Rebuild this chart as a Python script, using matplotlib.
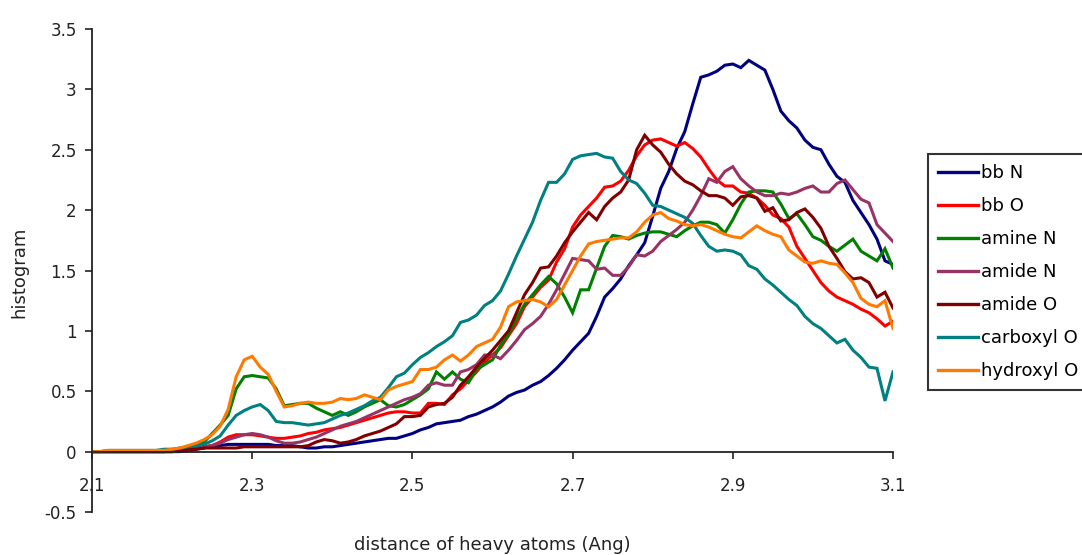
import numpy as np
import matplotlib
matplotlib.use("Agg")
import matplotlib.pyplot as plt
from matplotlib.ticker import FormatStrFormatter, FuncFormatter

# distance grid (Angstrom), 0.01 step
distance = np.round(np.arange(2.10, 3.1001, 0.01), 2)

bb_N = [0,0,0,0,0,0,0,0,0,0,
        0,0,0.01,0.02,0.03,0.05,0.05,0.06,0.06,0.06,
        0.06,0.06,0.06,0.05,0.05,0.05,0.04,0.03,0.03,0.04,
        0.04,0.05,0.06,0.07,0.08,0.09,0.10,0.11,0.11,0.13,
        0.15,0.18,0.20,0.23,0.24,0.25,0.26,0.29,0.31,0.34,
        0.37,0.41,0.46,0.49,0.51,0.55,0.58,0.63,0.69,0.76,
        0.84,0.91,0.98,1.12,1.28,1.35,1.43,1.54,1.63,1.73,
        1.95,2.18,2.32,2.51,2.65,2.88,3.10,3.12,3.15,3.20,
        3.21,3.18,3.24,3.20,3.16,3.00,2.82,2.74,2.68,2.58,
        2.52,2.50,2.38,2.28,2.23,2.08,1.98,1.88,1.76,1.58,
        1.55]

bb_O = [0,0,0,0,0,0,0,0,0,0,
        0.01,0.01,0.02,0.03,0.04,0.05,0.08,0.12,0.14,0.14,
        0.14,0.13,0.12,0.11,0.11,0.12,0.13,0.15,0.16,0.18,
        0.19,0.20,0.22,0.24,0.26,0.28,0.30,0.32,0.33,0.33,
        0.32,0.32,0.40,0.40,0.39,0.47,0.52,0.59,0.66,0.74,
        0.80,0.86,0.96,1.06,1.20,1.28,1.36,1.42,1.57,1.68,
        1.86,1.96,2.03,2.10,2.19,2.20,2.24,2.33,2.45,2.54,
        2.58,2.59,2.56,2.53,2.56,2.51,2.44,2.34,2.25,2.20,
        2.20,2.15,2.14,2.10,2.04,1.96,1.93,1.86,1.70,1.60,
        1.50,1.40,1.33,1.28,1.25,1.22,1.18,1.15,1.10,1.04,
        1.08]

amine_N = [0,0,0,0,0,0,0,0,0,0,
           0.01,0.02,0.04,0.06,0.08,0.15,0.22,0.30,0.52,0.62,
           0.63,0.62,0.61,0.52,0.38,0.39,0.40,0.40,0.36,0.33,
           0.30,0.33,0.30,0.33,0.37,0.40,0.43,0.38,0.37,0.39,
           0.43,0.47,0.52,0.66,0.60,0.66,0.60,0.57,0.68,0.72,
           0.76,0.88,0.97,1.10,1.22,1.30,1.38,1.45,1.39,1.28,
           1.15,1.34,1.34,1.52,1.70,1.79,1.78,1.76,1.79,1.81,
           1.82,1.82,1.80,1.78,1.83,1.87,1.90,1.90,1.88,1.81,
           1.92,2.05,2.15,2.16,2.16,2.15,2.05,1.93,1.97,1.88,
           1.78,1.75,1.70,1.66,1.71,1.76,1.66,1.62,1.58,1.68,
           1.52]

amide_N = [0,0,0,0,0,0,0,0,0,0,
           0,0.01,0.02,0.03,0.04,0.05,0.07,0.10,0.12,0.14,
           0.15,0.14,0.12,0.09,0.07,0.07,0.08,0.10,0.12,0.15,
           0.18,0.21,0.23,0.25,0.28,0.31,0.34,0.37,0.40,0.43,
           0.45,0.48,0.55,0.57,0.55,0.55,0.66,0.68,0.72,0.80,
           0.80,0.77,0.84,0.92,1.01,1.06,1.12,1.22,1.34,1.47,
           1.60,1.59,1.58,1.51,1.52,1.46,1.46,1.53,1.63,1.62,
           1.66,1.74,1.79,1.84,1.90,2.00,2.12,2.26,2.23,2.32,
           2.36,2.26,2.20,2.15,2.12,2.12,2.14,2.13,2.15,2.18,
           2.20,2.15,2.15,2.22,2.25,2.17,2.09,2.06,1.88,1.81,
           1.74]

amide_O = [0,0,0,0,0,0,0,0,0,0,
           0,0.01,0.02,0.02,0.03,0.03,0.03,0.03,0.03,0.04,
           0.04,0.04,0.04,0.04,0.04,0.04,0.04,0.05,0.08,0.10,
           0.09,0.07,0.08,0.10,0.13,0.15,0.17,0.20,0.23,0.29,
           0.29,0.30,0.37,0.39,0.40,0.45,0.55,0.62,0.70,0.77,
           0.84,0.92,1.00,1.15,1.30,1.40,1.52,1.53,1.62,1.73,
           1.82,1.90,1.98,1.92,2.03,2.10,2.15,2.25,2.50,2.62,
           2.54,2.48,2.38,2.30,2.24,2.21,2.16,2.12,2.12,2.10,
           2.04,2.11,2.12,2.10,1.99,2.02,1.91,1.92,1.98,2.01,
           1.94,1.85,1.70,1.60,1.49,1.43,1.44,1.40,1.28,1.32,
           1.19]

carboxyl_O = [0,0,0.01,0.01,0.01,0.01,0.01,0.01,0.01,0.02,
              0.02,0.03,0.04,0.05,0.06,0.09,0.13,0.22,0.30,0.34,
              0.37,0.39,0.34,0.25,0.24,0.24,0.23,0.22,0.23,0.24,
              0.27,0.30,0.32,0.35,0.38,0.42,0.45,0.53,0.62,0.65,
              0.72,0.78,0.82,0.87,0.91,0.96,1.07,1.09,1.13,1.21,
              1.25,1.33,1.47,1.62,1.76,1.90,2.08,2.23,2.23,2.30,
              2.42,2.45,2.46,2.47,2.44,2.43,2.32,2.25,2.22,2.14,
              2.04,2.03,2.00,1.97,1.94,1.89,1.79,1.70,1.66,1.67,
              1.66,1.63,1.54,1.51,1.43,1.38,1.32,1.26,1.21,1.12,
              1.06,1.02,0.96,0.90,0.93,0.84,0.78,0.70,0.69,0.42,
              0.66]

hydroxyl_O = [0.00,0.00,0.01,0.01,0.01,0.01,0.01,0.01,0.01,0.01,
              0.02,0.03,0.05,0.07,0.10,0.14,0.21,0.35,0.62,0.76,
              0.79,0.70,0.64,0.50,0.37,0.38,0.40,0.41,0.40,0.40,
              0.41,0.44,0.43,0.44,0.47,0.45,0.43,0.51,0.54,0.56,
              0.58,0.68,0.68,0.70,0.76,0.80,0.75,0.80,0.87,0.90,
              0.93,1.03,1.20,1.24,1.25,1.26,1.24,1.20,1.26,1.38,
              1.50,1.62,1.72,1.74,1.75,1.76,1.77,1.77,1.82,1.90,
              1.96,1.98,1.93,1.91,1.88,1.87,1.88,1.86,1.83,1.80,
              1.78,1.77,1.82,1.87,1.83,1.80,1.78,1.67,1.62,1.57,
              1.56,1.58,1.56,1.55,1.48,1.40,1.27,1.22,1.20,1.25,
              1.02]

series_names = ["bb N", "bb O", "amine N", "amide N", "amide O", "carboxyl O", "hydroxyl O"]
series_values = [bb_N, bb_O, amine_N, amide_N, amide_O, carboxyl_O, hydroxyl_O]
series_colors = ["#000080", "#FF0000", "#008000", "#993366", "#800000", "#008080", "#FF7A00"]

x_ticks = [2.1, 2.3, 2.5, 2.7, 2.9, 3.1]
y_ticks = [-0.5, 0, 0.5, 1, 1.5, 2, 2.5, 3, 3.5]

plt.rcParams['font.family'] = ['DejaVu Sans']

W, H = 1082, 555
fig = plt.figure(figsize=(W / 100, H / 100), dpi=100)
ax = fig.add_axes([92 / W, 1 - 512 / H, (893 - 92) / W, (512 - 29) / H])

for name, vals, col in zip(series_names, series_values, series_colors):
    ax.plot(distance, vals, color=col, lw=2.2, label=name, solid_joinstyle='miter')

ax.set_xlim(2.1, 3.1)
ax.set_ylim(-0.5, 3.5)
ax.set_xticks(x_ticks)
ax.set_yticks(y_ticks)
ax.xaxis.set_major_formatter(FormatStrFormatter('%.1f'))
ax.yaxis.set_major_formatter(FuncFormatter(lambda v, p: f"{v:g}"))

ax.spines['top'].set_visible(False)
ax.spines['right'].set_visible(False)
ax.spines['bottom'].set_position(('data', 0))
for s in ('left', 'bottom'):
    ax.spines[s].set_linewidth(1.3)
    ax.spines[s].set_color('#222222')

ax.tick_params(axis='x', direction='out', length=5, width=1.2, pad=13, labelsize=12, colors='#222222')
ax.tick_params(axis='y', direction='out', length=5, width=1.2, pad=6, labelsize=12, colors='#222222')

fig.text(19 / W, 1 - 272 / H, "histogram", rotation=90, ha='center', va='center',
         fontsize=13, color='#222222')
fig.text(492 / W, 1 - 545 / H, "distance of heavy atoms (Ang)", ha='center', va='center',
         fontsize=13, color='#222222')

leg = fig.legend(loc='upper left', bbox_to_anchor=(928 / W, 1 - 154 / H),
                 fontsize=13, frameon=True, fancybox=False, edgecolor='black',
                 handlelength=2.2, handletextpad=0.2, labelspacing=0.83,
                 borderpad=0.55, borderaxespad=0)
leg.get_frame().set_linewidth(1.5)
for line in leg.get_lines():
    line.set_linewidth(2.4)

fig.savefig("out.png", dpi=100)
